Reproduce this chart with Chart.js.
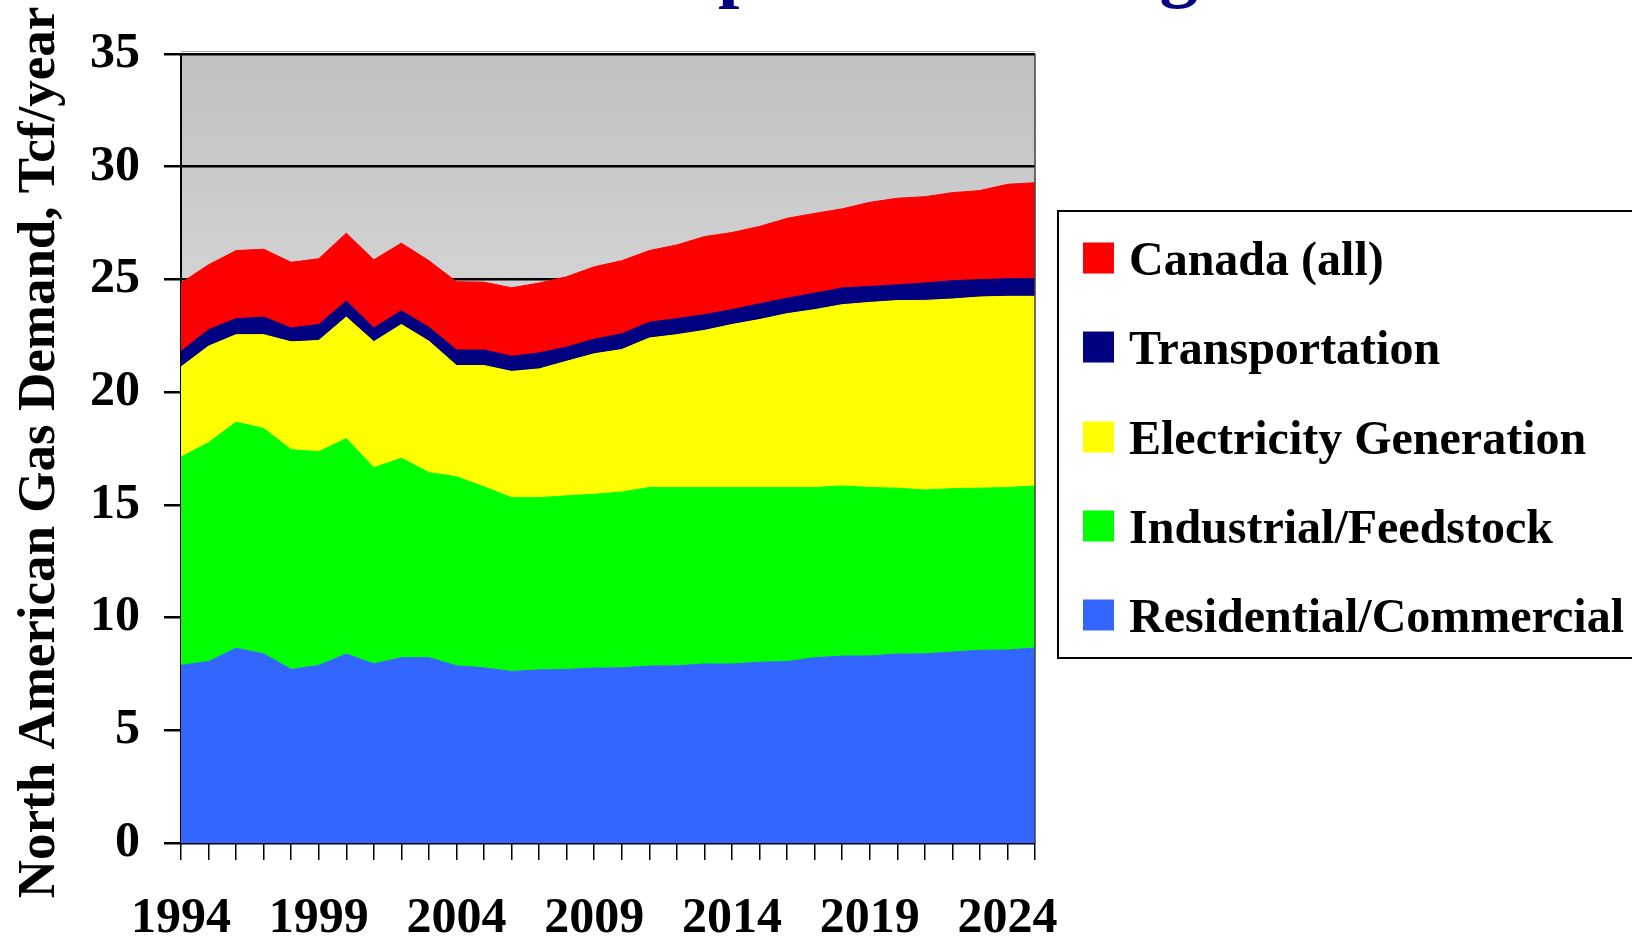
<!DOCTYPE html>
<html><head><meta charset="utf-8">
<script src="https://cdn.jsdelivr.net/npm/chart.js@4.4.1/dist/chart.umd.min.js"></script>
<style>html,body{margin:0;padding:0;background:#fff;overflow:hidden}#wrap{width:1632px;height:942px;position:relative}</style>
</head><body><div id="wrap"><canvas id="c" width="1632" height="942"></canvas></div>
<script>
// ---------- data ----------
const years = ['1994','1995','1996','1997','1998','1999','2000','2001','2002','2003','2004','2005','2006','2007','2008','2009','2010','2011','2012','2013','2014','2015','2016','2017','2018','2019','2020','2021','2022','2023','2024','2025'];
const xTickLabels = ['1994','1999','2004','2009','2014','2019','2024'];
const yMin = 0, yMax = 35, yStep = 5;

const residential    = [7.88,8.05,8.64,8.39,7.70,7.88,8.38,7.95,8.22,8.22,7.86,7.77,7.61,7.68,7.70,7.76,7.77,7.85,7.86,7.94,7.94,8.02,8.05,8.22,8.29,8.30,8.38,8.39,8.47,8.55,8.56,8.65];
const industrial     = [9.24,9.71,10.03,10.00,9.75,9.48,9.56,8.70,8.85,8.21,8.39,8.03,7.71,7.64,7.70,7.71,7.80,7.92,7.91,7.83,7.83,7.75,7.72,7.55,7.55,7.47,7.36,7.27,7.25,7.19,7.21,7.19];
const electricity    = [4.00,4.28,3.88,4.16,4.78,4.93,5.39,5.59,5.93,5.83,4.93,5.38,5.60,5.71,5.97,6.23,6.32,6.63,6.78,6.97,7.23,7.45,7.71,7.89,8.04,8.21,8.32,8.41,8.41,8.48,8.48,8.41];
const transportation = [0.69,0.73,0.71,0.78,0.62,0.71,0.71,0.61,0.61,0.62,0.69,0.69,0.67,0.71,0.63,0.65,0.70,0.70,0.71,0.70,0.66,0.70,0.69,0.73,0.74,0.71,0.70,0.77,0.81,0.77,0.78,0.78];
const canada         = [3.03,2.88,3.02,3.01,2.91,2.92,3.01,3.02,3.00,2.95,3.03,3.01,3.04,3.10,3.12,3.21,3.24,3.18,3.27,3.46,3.42,3.43,3.54,3.54,3.51,3.73,3.84,3.83,3.91,3.95,4.19,4.26];

const seriesNames = ['Residential/Commercial','Industrial/Feedstock','Electricity Generation','Transportation','Canada (all)'];
const seriesValues = [residential, industrial, electricity, transportation, canada];

const yAxisTitle = 'North American Gas Demand, Tcf/year';
const mainTitle = 'Gas Consumption Growing';

// ---------- styles ----------
const seriesColors = ['#3366ff','#00ff00','#ffff00','#000080','#ff0000'];
const FONT = "'Liberation Serif','Times New Roman',serif";

const decorPlugin = {
  id: 'decor',
  beforeDraw(chart) {
    const {ctx, chartArea: a} = chart;
    ctx.save();
    ctx.fillStyle = '#ffffff';
    ctx.fillRect(0, 0, chart.width, chart.height);
    const g = ctx.createLinearGradient(0, a.top, 0, a.bottom);
    g.addColorStop(0, '#c0c0c0');
    g.addColorStop(1, '#ffffff');
    ctx.fillStyle = g;
    ctx.fillRect(a.left, a.top, a.right - a.left, a.bottom - a.top);
    ctx.strokeStyle = '#a8a8a8';
    ctx.lineWidth = 1;
    ctx.beginPath(); ctx.moveTo(a.left, a.top - 2.5); ctx.lineTo(a.right, a.top - 2.5); ctx.stroke();
    ctx.restore();
  },
  afterDatasetsDraw(chart) {
    const {ctx, chartArea: a} = chart;
    ctx.save();
    ctx.strokeStyle = '#404040';
    ctx.lineWidth = 1.5;
    ctx.beginPath(); ctx.moveTo(a.right, a.top); ctx.lineTo(a.right, a.bottom); ctx.stroke();
    ctx.restore();
  },
  afterDraw(chart) {
    const {ctx, chartArea: a} = chart;
    ctx.save();
    // legend
    ctx.strokeStyle = '#000'; ctx.lineWidth = 2;
    ctx.strokeRect(1058, 211, 620, 447);
    const rowY = [258, 347, 437, 526, 615];
    ctx.font = 'bold 48px ' + FONT;
    ctx.textAlign = 'left'; ctx.textBaseline = 'alphabetic';
    const ds = chart.data.datasets.slice().reverse();
    ds.forEach((d, i) => {
      const cy = rowY[i];
      ctx.fillStyle = d.backgroundColor;
      ctx.fillRect(1083, cy - 15.5, 31, 31);
      ctx.fillStyle = '#000';
      ctx.fillText(d.label, 1129, cy + 17);
    });
    // y axis title
    ctx.save();
    ctx.translate(54, (a.top + a.bottom) / 2 + 4);
    ctx.rotate(-Math.PI / 2);
    ctx.font = 'bold 53px ' + FONT;
    ctx.textAlign = 'center'; ctx.textBaseline = 'alphabetic';
    ctx.fillStyle = '#000';
    ctx.fillText(yAxisTitle, 0, 0);
    ctx.restore();
    // main title (mostly above the visible area)
    ctx.font = 'bold 77px ' + FONT;
    ctx.fillStyle = '#000080';
    ctx.textAlign = 'left'; ctx.textBaseline = 'alphabetic';
    const pre = ctx.measureText('Gas Consum').width;
    ctx.fillText(mainTitle, 718 - pre, -7);
    ctx.restore();
  }
};

new Chart(document.getElementById('c'), {
  type: 'line',
  data: {
    labels: years,
    datasets: seriesNames.map((n, i) => ({
      label: n,
      data: seriesValues[i],
      backgroundColor: seriesColors[i],
      borderColor: seriesColors[i],
      borderWidth: 1,
      pointRadius: 0,
      tension: 0,
      fill: i === 0 ? 'origin' : '-1'
    }))
  },
  options: {
    responsive: false,
    animation: false,
    layout: {padding: {top: 52, right: 597, bottom: 0, left: 0}},
    plugins: {legend: {display: false}, tooltip: {enabled: false}, title: {display: false}},
    scales: {
      x: {
        offset: false,
        grid: {drawOnChartArea: false, color: '#000', lineWidth: 1.5, tickLength: 17, offset: false},
        border: {color: '#000', width: 2},
        ticks: {
          autoSkip: false, maxRotation: 0, minRotation: 0, padding: 29, color: '#000',
          font: {family: FONT, size: 50, weight: 'bold'},
          callback(value) { const l = this.getLabelForValue(value); return xTickLabels.includes(l) ? l : ''; }
        },
        afterFit(s) { s.height = 99; }
      },
      y: {
        stacked: true, min: yMin, max: yMax,
        ticks: {stepSize: yStep, padding: 24, color: '#000', font: {family: FONT, size: 50, weight: 'bold'}},
        grid: {color: '#000', lineWidth: 2.5, tickLength: 17},
        border: {color: '#000', width: 2},
        afterFit(s) { s.width = 181; }
      }
    }
  },
  plugins: [decorPlugin]
});
</script>
</body></html>
